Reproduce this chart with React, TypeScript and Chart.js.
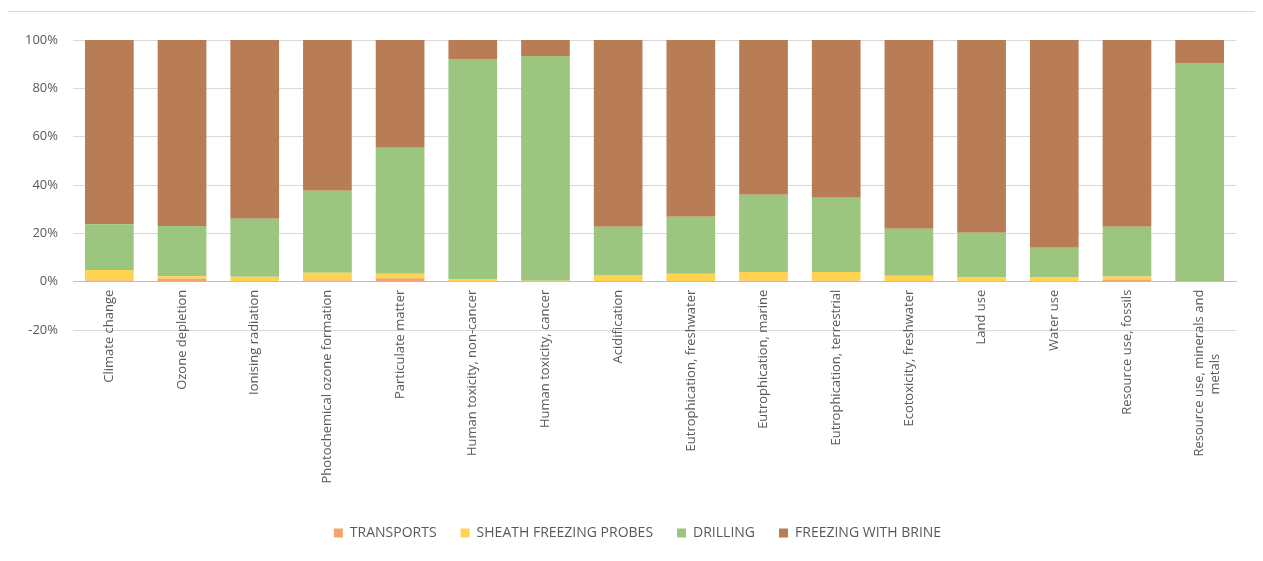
import React, { useEffect, useRef } from "react";
import { Chart, registerables } from "chart.js";

Chart.register(...registerables);

const categories: (string | string[])[] = [
  "Climate change",
  "Ozone depletion",
  "Ionising radiation",
  "Photochemical ozone formation",
  "Particulate matter",
  "Human toxicity, non-cancer",
  "Human toxicity, cancer",
  "Acidification",
  "Eutrophication, freshwater",
  "Eutrophication, marine",
  "Eutrophication, terrestrial",
  "Ecotoxicity, freshwater",
  "Land use",
  "Water use",
  "Resource use, fossils",
  ["Resource use, minerals and", "metals                   "],
];

const transports = [0.5, 1.2, 0.3, 0.5, 1.4, 0.2, 0.1, 0.3, 0.3, 0.4, 0.4, 0.3, 0.2, 0.2, 0.8, 0.05];
const sheathFreezingProbes = [4.3, 1.0, 1.7, 3.2, 1.9, 0.8, 0.3, 2.5, 3.0, 3.6, 3.6, 2.2, 1.5, 1.5, 1.3, 0.15];
const drilling = [19.0, 20.8, 24.0, 33.9, 52.1, 91.1, 93.0, 19.9, 23.6, 32.0, 30.7, 19.4, 18.5, 12.3, 20.6, 90.3];
const freezingWithBrine = [76.2, 77.0, 74.0, 62.4, 44.6, 7.9, 6.6, 77.3, 73.1, 64.0, 65.3, 78.1, 79.8, 86.0, 77.3, 9.5];

const seriesNames = ["TRANSPORTS", "SHEATH FREEZING PROBES", "DRILLING", "FREEZING WITH BRINE"];
const yTicks = [-20, 0, 20, 40, 60, 80, 100];

const FONT = "'Open Sans', sans-serif";
const TEXT = "#595959";

export default function App() {
  const ref = useRef<HTMLCanvasElement>(null);

  useEffect(() => {
    if (!ref.current) return;
    const colors = ["#F3A46C", "#FFD34F", "#9CC57F", "#B87D55"];
    const values = [transports, sheathFreezingProbes, drilling, freezingWithBrine];
    const chart = new Chart(ref.current, {
      type: "bar",
      data: {
        labels: categories,
        datasets: seriesNames.map((name, i) => ({
          label: name,
          data: values[i],
          backgroundColor: colors[i],
          borderWidth: 0,
          barPercentage: 0.67,
          categoryPercentage: 1,
        })),
      },
      options: {
        responsive: false,
        animation: false,
        layout: { padding: { left: 19, right: 6, top: 28, bottom: 22 } },
        plugins: {
          tooltip: { enabled: false },
          legend: {
            position: "bottom",
            labels: {
              color: TEXT,
              font: { family: FONT, size: 14 },
              boxWidth: 9,
              boxHeight: 9,
              padding: 24,
            },
          },
        },
        scales: {
          x: {
            stacked: true,
            position: { y: 0 } as any,
            grid: { display: false, drawTicks: false },
            border: { display: true, color: "#BFBFBF", width: 1 },
            ticks: {
              color: TEXT,
              font: { family: FONT, size: 13 },
              minRotation: 90,
              maxRotation: 90,
              autoSkip: false,
              padding: 8,
            },
          },
          xSpace: {
            type: "category",
            position: "bottom",
            display: true,
            grid: { display: false, drawTicks: false },
            border: { display: false },
            ticks: { display: false },
            afterFit: (scale: any) => {
              scale.height = 172;
            },
          },
          y: {
            stacked: true,
            min: -20,
            max: 100,
            afterBuildTicks: (scale: any) => {
              scale.ticks = yTicks.map((v) => ({ value: v }));
            },
            grid: { color: "#D9D9D9", drawTicks: false },
            border: { display: false },
            ticks: {
              color: TEXT,
              font: { family: FONT, size: 13 },
              padding: 15,
              callback: (v: any) => v + "%",
            },
            afterFit: (scale: any) => {
              scale.width = 48;
            },
          },
          ySpace: {
            type: "linear",
            position: "right",
            display: true,
            grid: { display: false, drawTicks: false },
            border: { display: false },
            ticks: { display: false },
            afterFit: (scale: any) => {
              scale.width = 14;
            },
          },
        },
      } as any,
    });
    return () => chart.destroy();
  }, []);

  return (
    <div
      style={{
        marginLeft: -3,
        marginTop: 3,
        width: 1280,
        height: 570,
        border: "1px solid #D9D9D9",
        background: "#fff",
        boxSizing: "border-box",
      }}
    >
      <canvas ref={ref} width={1250} height={560} style={{ display: "block" }} />
    </div>
  );
}
